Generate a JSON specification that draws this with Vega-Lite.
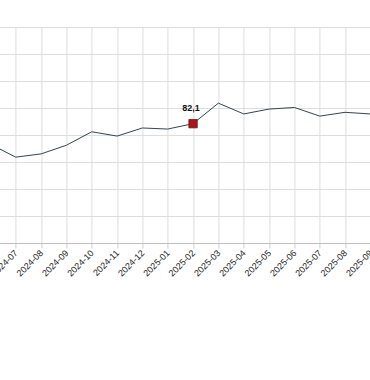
{
  "$schema": "https://vega.github.io/schema/vega-lite/v6.json",
  "autosize": {"type": "none"},
  "padding": {"left": -9.6, "top": 27, "right": 0, "bottom": 137},
  "width": 380,
  "height": 216,
  "background": "white",
  "config": {
    "view": {"stroke": null},
    "locale": {"number": {"decimal": ",", "thousands": ".", "grouping": [3], "currency": ["", " €"]}},
    "font": "Liberation Sans"
  },
  "data": {
    "values": [
      {"month": "2024-06", "value": 78.3},
      {"month": "2024-07", "value": 75.9},
      {"month": "2024-08", "value": 76.5},
      {"month": "2024-09", "value": 78.1},
      {"month": "2024-10", "value": 80.6},
      {"month": "2024-11", "value": 79.8},
      {"month": "2024-12", "value": 81.3},
      {"month": "2025-01", "value": 81.1},
      {"month": "2025-02", "value": 82.1},
      {"month": "2025-03", "value": 85.9},
      {"month": "2025-04", "value": 83.9},
      {"month": "2025-05", "value": 84.8},
      {"month": "2025-06", "value": 85.1},
      {"month": "2025-07", "value": 83.5},
      {"month": "2025-08", "value": 84.2},
      {"month": "2025-09", "value": 83.9}
    ]
  },
  "encoding": {
    "x": {
      "field": "month",
      "type": "ordinal",
      "sort": null,
      "scale": {"type": "point", "padding": 0},
      "axis": {
        "title": null,
        "labelAngle": -45,
        "labelAlign": "right",
        "labelBaseline": "middle",
        "labelFontSize": 9,
        "labelColor": "#222",
        "labelPadding": 3,
        "tickSize": 5,
        "tickColor": "#cccccc",
        "domainColor": "#c0c0c0",
        "grid": true,
        "gridColor": "#dddddd",
        "labelOverlap": false
      }
    },
    "y": {
      "field": "value",
      "type": "quantitative",
      "scale": {"domain": [60, 100], "nice": false, "zero": false},
      "axis": {
        "title": null,
        "labels": false,
        "ticks": false,
        "domain": false,
        "grid": true,
        "gridColor": "#dddddd",
        "values": [60, 65, 70, 75, 80, 85, 90, 95, 100]
      }
    }
  },
  "layer": [
    {"mark": {"type": "line", "color": "#2f4650", "strokeWidth": 1}},
    {
      "transform": [{"filter": "datum.month === '2025-02'"}],
      "mark": {"type": "square", "size": 70, "color": "#a8161c", "filled": true, "opacity": 1, "stroke": "#7a0f14", "strokeWidth": 0.8}
    },
    {
      "transform": [{"filter": "datum.month === '2025-02'"}],
      "mark": {"type": "text", "dy": -16, "dx": -2, "fontSize": 9, "fontWeight": "bold", "color": "#111"},
      "encoding": {"text": {"field": "value", "type": "quantitative", "format": ".1f"}}
    }
  ]
}
